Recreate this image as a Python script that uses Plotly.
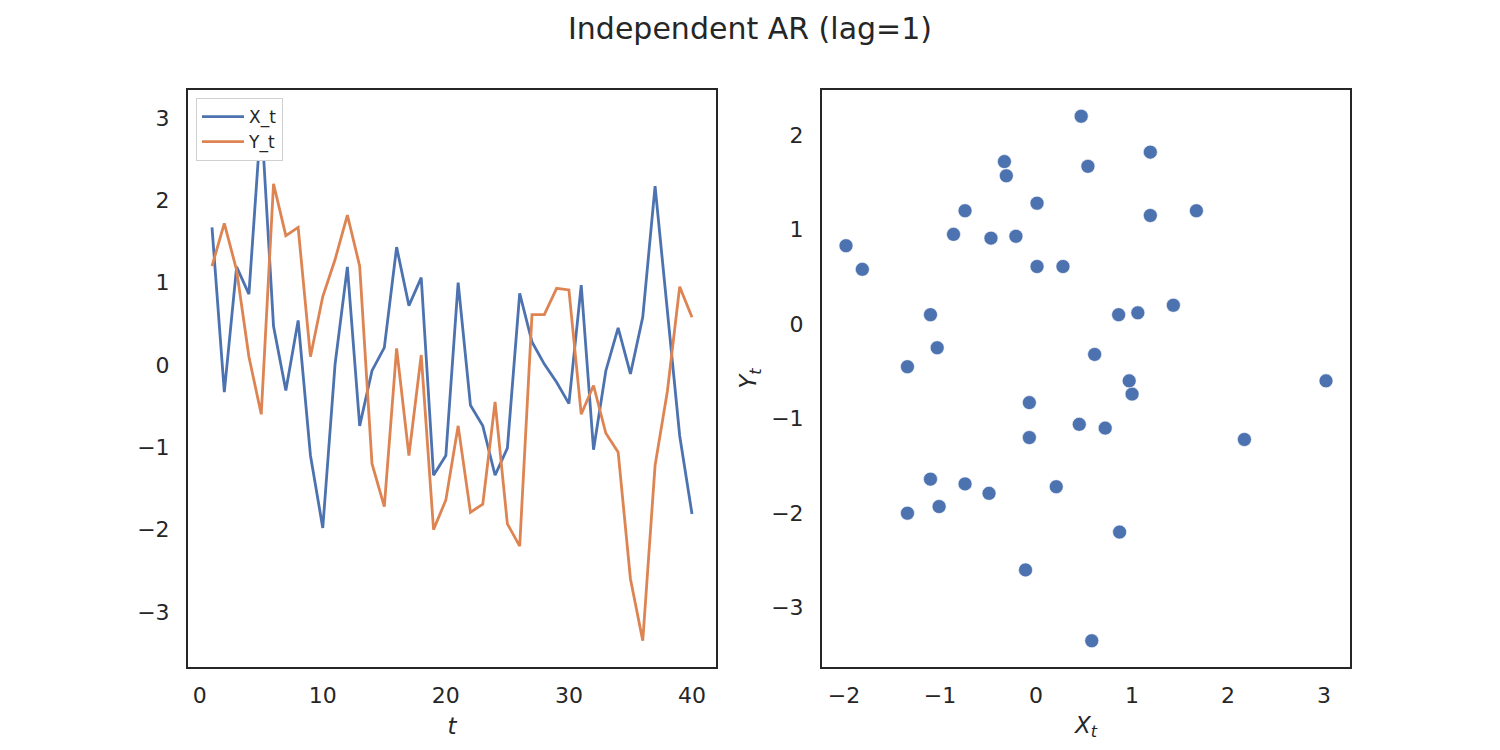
import plotly.graph_objects as go

t = list(range(1, 41))
x_t = [1.67, -0.33, 1.19, 0.86, 3.02, 0.47, -0.31, 0.54, -1.10, -1.98,
       0.01, 1.19, -0.74, -0.07, 0.21, 1.43, 0.72, 1.06, -1.34, -1.10,
       1.00, -0.49, -0.74, -1.34, -1.01, 0.87, 0.28, 0.01, -0.21, -0.47,
       0.97, -1.03, -0.07, 0.45, -0.11, 0.58, 2.17, 0.61, -0.86, -1.81]
y_t = [1.20, 1.72, 1.15, 0.10, -0.60, 2.20, 1.57, 1.67, 0.10, 0.83,
       1.28, 1.82, 1.20, -1.20, -1.72, 0.20, -1.10, 0.12, -2.00, -1.64,
       -0.74, -1.79, -1.69, -0.45, -1.93, -2.20, 0.61, 0.61, 0.93, 0.91,
       -0.60, -0.25, -0.83, -1.06, -2.60, -3.35, -1.22, -0.32, 0.95, 0.58]

title = "Independent AR (lag=1)"
blue = "#4c72b0"
orange = "#dd8452"
txt = "#262626"
spine = "#262626"


def padded(vals, frac=0.05):
    lo, hi = min(vals), max(vals)
    d = (hi - lo) * frac
    return [lo - d, hi + d]


fig = go.Figure()
fig.add_trace(go.Scatter(x=t, y=x_t, mode="lines", name="X_t",
                         line=dict(color=blue, width=2.8), xaxis="x", yaxis="y"))
fig.add_trace(go.Scatter(x=t, y=y_t, mode="lines", name="Y_t",
                         line=dict(color=orange, width=2.8), xaxis="x", yaxis="y"))
fig.add_trace(go.Scatter(x=x_t, y=y_t, mode="markers", showlegend=False,
                         marker=dict(color=blue, size=14, line=dict(color="white", width=0.6)),
                         xaxis="x2", yaxis="y2"))

base = dict(showline=True, mirror=True, linecolor=spine, linewidth=2,
            showgrid=False, zeroline=False, ticks="outside",
            tickcolor="rgba(0,0,0,0)", tickfont=dict(size=22, color=txt),
            title_font=dict(size=23, color=txt))
xa = dict(base, ticklen=8)
ya = dict(base, ticklen=12)

ydom = [1 - 667 / 750, 1 - 90 / 750]
fig.update_layout(
    width=1500, height=750,
    margin=dict(l=0, r=0, t=0, b=0),
    paper_bgcolor="white", plot_bgcolor="white",
    font=dict(family="DejaVu Sans", color=txt),
    title=dict(text=title, x=0.5, xanchor="center", y=1 - 28 / 750, yanchor="middle",
               font=dict(size=30, color=txt)),
    xaxis=dict(domain=[188 / 1500, 716 / 1500], range=padded(t), anchor="y",
               tickvals=[0, 10, 20, 30, 40], title=dict(text="<i>t</i>", standoff=10),
               **xa),
    yaxis=dict(domain=ydom, range=padded(x_t + y_t), anchor="x",
               tickvals=[-3, -2, -1, 0, 1, 2, 3], **ya),
    xaxis2=dict(domain=[822 / 1500, 1350 / 1500], range=padded(x_t), anchor="y2",
                tickvals=[-2, -1, 0, 1, 2, 3],
                title=dict(text="<i>X</i><sub><i>t</i></sub>", standoff=9), **xa),
    yaxis2=dict(domain=ydom, range=padded(y_t), anchor="x2",
                tickvals=[-3, -2, -1, 0, 1, 2],
                title=dict(text="<i>Y</i><sub><i>t</i></sub>", standoff=8), **ya),
    legend=dict(x=196 / 1500, y=1 - 98 / 750, xanchor="left", yanchor="top",
                bgcolor="white", bordercolor="#d0d0d0", borderwidth=1,
                font=dict(size=17, color=txt), itemwidth=42,
                tracegroupgap=0),
)

fig.write_html("out.html")
